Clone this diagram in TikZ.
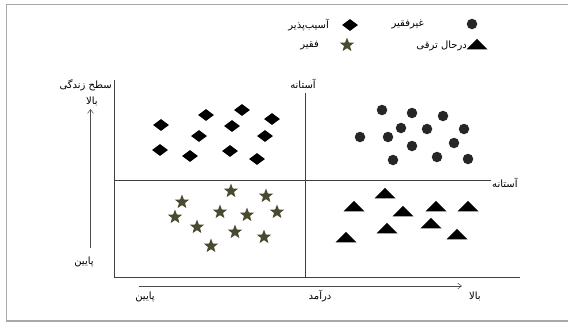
\documentclass[tikz,border=0pt]{standalone}
\usepackage{fontspec}
\newfontfamily\fafont[Script=Arabic]{DejaVu Sans}
\TeXXeTstate=1
\usetikzlibrary{shapes.geometric,arrows.meta}
\definecolor{starcol}{HTML}{4A4A30}
\definecolor{framecol}{HTML}{A8A8A8}
\newcommand{\fa}[1]{{\fafont\beginR #1\endR}}
\begin{document}
\begin{tikzpicture}[x=1pt,y=-1pt,
  lbl/.style={font=\fafont\fontsize{10}{11}\selectfont, inner sep=0pt},
  diam/.style={diamond, fill=black, minimum width=16pt, minimum height=12pt, inner sep=0pt, aspect=1.4},
  dot/.style={circle, fill=black!85, minimum size=10.5pt, inner sep=0pt},
  tri/.style={isosceles triangle, isosceles triangle apex angle=90, shape border rotate=90, fill=black, minimum width=18pt, minimum height=10.5pt, inner sep=0pt},
  starm/.style={star, star points=5, star point ratio=2.4, fill=starcol, minimum size=15pt, inner sep=0pt},
  axis/.style={draw=black!75, line width=0.6pt},
  arr/.style={draw=black!70, line width=0.5pt, -{Straight Barb[length=4pt,width=6pt]}}
]
\useasboundingbox (0,0) rectangle (568,322);
\draw[framecol, line width=1.3pt] (6.5,4.7) rectangle (575,321);

% legend
\node[dot] (lc) at (472,24) {};
\node[lbl, anchor=east] (lct) at (424,24) {\fa{غیرفقیر}};
\node[diam] (ld) at (350,25) {};
\node[lbl, anchor=east] (ldt) at (329,25) {\fa{آسیب‌پذیر}};
\node[starm] (ls) at (347,45) {};
\node[lbl, anchor=east] (lst) at (319,46) {\fa{فقیر}};
\node[tri] (lt) at (477,45) {};
\node[lbl, anchor=east] (ltt) at (467,46) {\fa{درحال ترقی}};

% axes box
\coordinate (tl) at (114.5,80);
\coordinate (bl) at (114.5,277);
\coordinate (br) at (520,277);
\draw[axis] (tl) -- (bl) -- (br);
\coordinate (vt) at (305,93);
\coordinate (vb) at (305,277);
\draw[axis] (vt) -- (vb);
\coordinate (hl) at (114.5,180);
\coordinate (hr) at (491,180);
\draw[axis] (hl) -- (hr);

\node[lbl] (th1) at (303,84) {\fa{آستانه}};
\node[lbl, anchor=west] (th2) at (492,183) {\fa{آستانه}};
\node[lbl, anchor=east] (ylab) at (112,85) {\fa{سطح زندگی}};

% y arrow
\coordinate (ya) at (90.5,248);
\coordinate (yb) at (90.5,109);
\draw[arr] (ya) -- (yb);
\node[lbl] (yhi) at (92,101) {\fa{بالا}};
\node[lbl] (ylo) at (84,262) {\fa{پایین}};

% x arrow
\coordinate (xa) at (139,286);
\coordinate (xb) at (462,286);
\draw[arr] (xa) -- (xb);
\node[lbl] (xlo) at (145,297) {\fa{پایین}};
\node[lbl] (xmid) at (320,296) {\fa{درآمد}};
\node[lbl] (xhi) at (475,296) {\fa{بالا}};

% diamonds
\foreach \p [count=\i] in {(161,125),(206,115),(242,110),(272,119),(232,126),(199,136),(265,136),(160,150),(190,156),(230,151),(257,159)}
  \node[diam] (d\i) at \p {};
% circles
\foreach \p [count=\i] in {(382,110),(412,113),(443,116),(401,128),(427,129),(464,129),(360,137),(388,137),(412,146),(454,143),(393,160),(437,157),(468,159)}
  \node[dot] (c\i) at \p {};
% stars
\foreach \p [count=\i] in {(231,191),(266,196),(182,202),(175,217),(220,212),(247,215),(277,212),(197,227),(235,232),(264,237),(211,246)}
  \node[starm] (s\i) at \p {};
% triangles
\foreach \p [count=\i] in {(385,194),(354,207),(403,212),(436,207),(468,207),(387,229),(431,224),(346,238),(457,235)}
  \node[tri] (t\i) at \p {};
\end{tikzpicture}
\end{document}
